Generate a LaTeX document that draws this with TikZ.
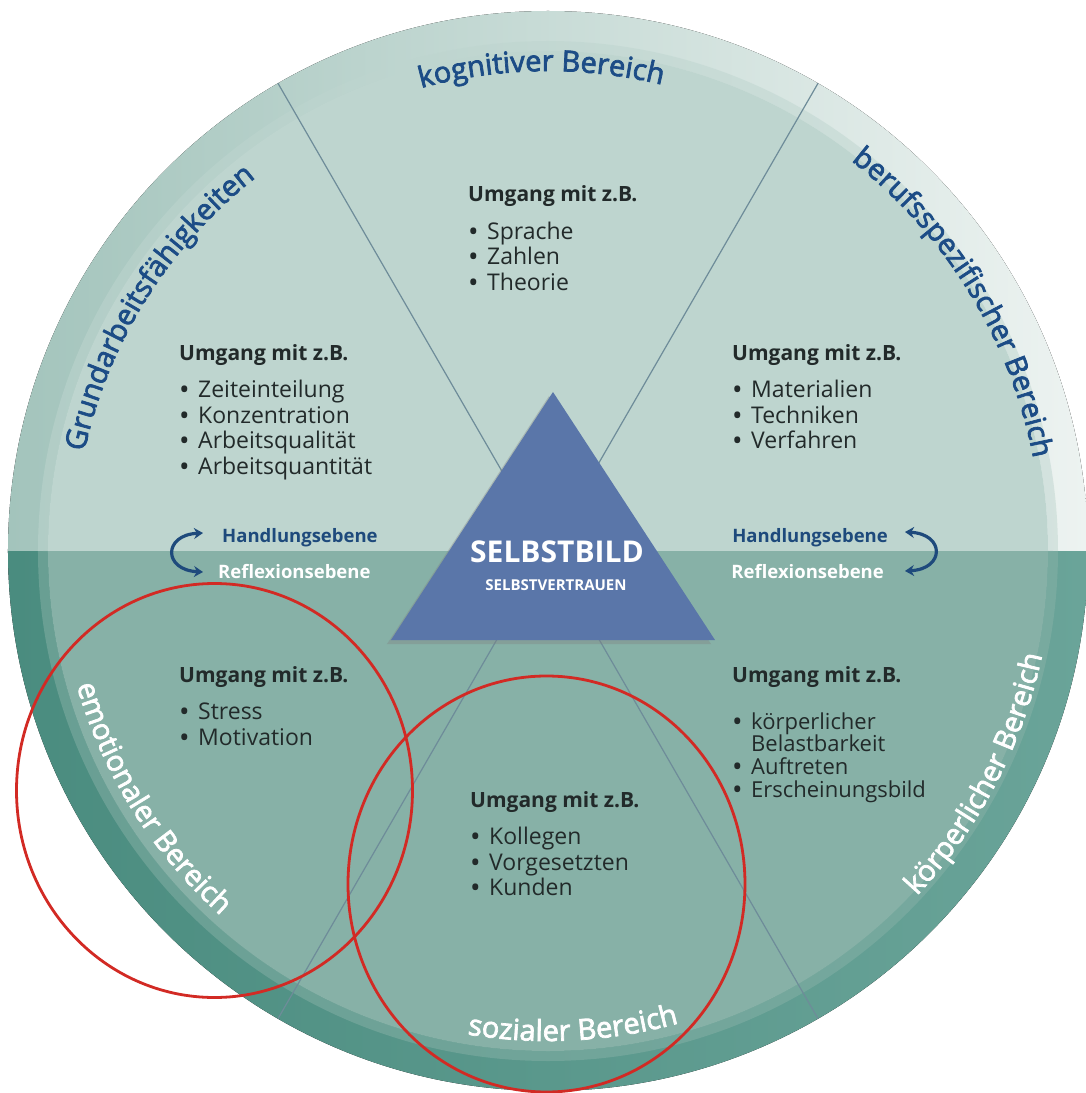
\documentclass[tikz,border=0pt]{standalone}
\usepackage{fontspec}
\setmainfont{Open Sans}
\newfontface\bogenfont{Open Sans}[FakeBold=2.5]
\usetikzlibrary{decorations.text,arrows.meta,shadows}

\definecolor{obenInnen}{HTML}{BED5CF}
\definecolor{untenInnen}{HTML}{87B1A7}
\definecolor{ringOL}{HTML}{A3C4BC}
\definecolor{ringOR}{HTML}{EDF3F1}
\definecolor{ringUL}{HTML}{4A8C7F}
\definecolor{ringUR}{HTML}{6AA499}
\definecolor{trennlinie}{HTML}{6E8C99}
\definecolor{dreieckblau}{HTML}{5A76A9}
\definecolor{bereichblau}{HTML}{1C4C86}
\definecolor{textdunkel}{HTML}{222A2A}
\definecolor{pfeilblau}{HTML}{1E4A7C}
\definecolor{kreisrot}{HTML}{D22A24}

\newcommand\bul[1]{\makebox[19pt][l]{\raisebox{-2pt}{\fontsize{28}{20}\selectfont•}}#1}
\newcommand\kopf{{\bfseries\fontsize{21}{25}\selectfont Umgang mit z.B.}}
\newcommand\bogenschrift{\bogenfont\fontsize{29}{29}\selectfont}

\begin{document}
\begin{tikzpicture}[x=1pt,y=1pt,
        block/.style={anchor=base west, align=left, inner sep=0pt, text=textdunkel, font=\fontsize{23}{25.5}\selectfont},
        ebene/.style={anchor=base west, inner sep=0pt, font=\bfseries\fontsize{18.5}{20}\selectfont},
        ebenepfeil/.style={pfeilblau, line width=3.2pt, {Stealth[length=9pt,width=11pt]}-{Stealth[length=9pt,width=11pt]}},
        rotkreis/.style={draw=kreisrot, line width=2.8pt}
        ]
            \useasboundingbox (-548,-542) rectangle (538,551);

            % Scheibe: Ring und zwei Hälften
            \fill[left color=ringOL, right color=ringOR] (180:540) arc (180:0:540) -- cycle;
            \fill[left color=ringUL, right color=ringUR] (180:540) arc (180:360:540) -- cycle;
            \fill[obenInnen] (180:500) arc (180:0:500) -- cycle;
            \fill[untenInnen] (180:500) arc (180:360:500) -- cycle;
            \draw[obenInnen, line width=10pt, opacity=0.5] (180:505) arc (180:0:505);
            \draw[untenInnen, line width=10pt, opacity=0.5] (180:505) arc (180:360:505);

            \draw[trennlinie, line width=1.2pt] (60:540) -- (240:540);
            \draw[trennlinie, line width=1.2pt] (120:540) -- (300:540);

            % Dreieck in der Mitte
            \fill[dreieckblau, drop shadow={shadow xshift=-4pt, shadow yshift=-4pt, opacity=0.35}]
                (5,159) -- (167,-89) -- (-157,-89) -- cycle;
            \node[text=white, font=\bfseries\fontsize{30}{30}\selectfont, anchor=base] (selbstbild) at (9,-11) {SELBSTBILD};
            \node[text=white, font=\bfseries\fontsize{15}{15}\selectfont, anchor=base] (vertrauen) at (8,-39) {SELBSTVERTRAUEN};

            % Bereiche am Rand
            \path[decorate, decoration={text along path, text align=center, text color=bereichblau, text={|\bogenschrift|kognitiver Bereich}}] (130.8:480) arc (130.8:50.8:480);
            \path[decorate, decoration={text along path, text align=center, text color=bereichblau, text={|\bogenschrift|Grundarbeitsfähigkeiten}}] (190:474) arc (190:106:474);
            \path[decorate, decoration={text along path, text align=center, text color=bereichblau, text={|\bogenschrift|berufsspezifischer Bereich}}] (75:494) arc (75:-12:494);
            \path[decorate, decoration={text along path, text align=center, text color=white, text={|\bogenschrift|emotionaler Bereich}}] (172:490) arc (172:252:490);
            \path[decorate, decoration={text along path, text align=center, text color=white, text={|\bogenschrift|sozialer Bereich}}] (233:490) arc (233:313:490);
            \path[decorate, decoration={text along path, text align=center, text color=white, text={|\bogenschrift|körperlicher Bereich}}] (292.5:505) arc (292.5:372.5:505);

            % Beispiele (Lage = Grundlinie der letzten Zeile)
            \node[block] (kognitiv) at (-80,260.5) {\kopf\\[12pt]\bul{Sprache}\\\bul{Zahlen}\\\bul{Theorie}};
            \node[block] (grundarbeit) at (-369,77) {\kopf\\[12pt]\bul{Zeiteinteilung}\\\bul{Konzentration}\\\bul{Arbeitsqualität}\\\bul{Arbeitsquantität}};
            \node[block] (berufsspez) at (184,102.5) {\kopf\\[12pt]\bul{Materialien}\\\bul{Techniken}\\\bul{Verfahren}};
            \node[block] (emotional) at (-369,-194) {\kopf\\[12pt]\bul{Stress}\\\bul{Motivation}};
            \node[block, font=\fontsize{22}{22.8}\selectfont] (koerper) at (184,-246.4) {\kopf\\[24.2pt]\bul{körperlicher}\\\hspace*{19pt}Belastbarkeit\\\bul{Auftreten}\\\bul{Erscheinungsbild}};
            \node[block] (sozial) at (-78,-344.5) {\kopf\\[12pt]\bul{Kollegen}\\\bul{Vorgesetzten}\\\bul{Kunden}};

            % Handlungs- und Reflexionsebene
            \node[ebene, text=pfeilblau] (handlL) at (-326,9) {Handlungsebene};
            \node[ebene, text=white] (reflL) at (-330,-27) {Reflexionsebene};
            \node[ebene, text=pfeilblau, anchor=base east] (handlR) at (340,9) {Handlungsebene};
            \node[ebene, text=white, anchor=base east] (reflR) at (336,-27) {Reflexionsebene};

            \coordinate (pfLo) at (-345,18);
            \coordinate (pfLu) at (-345,-21);
            \coordinate (pfRo) at (357,19);
            \coordinate (pfRu) at (357,-20);
            \draw[ebenepfeil] (pfLo) .. controls (-385,16) and (-385,-19) .. (pfLu);
            \draw[ebenepfeil] (pfRo) .. controls (397,17) and (397,-18) .. (pfRu);

            % rote Markierungen
            \draw[rotkreis] (-333.5,-239.5) ellipse [x radius=198, y radius=207];
            \draw[rotkreis] (-1.5,-333) ellipse [x radius=198.5, y radius=208];

        \end{tikzpicture}
\end{document}
